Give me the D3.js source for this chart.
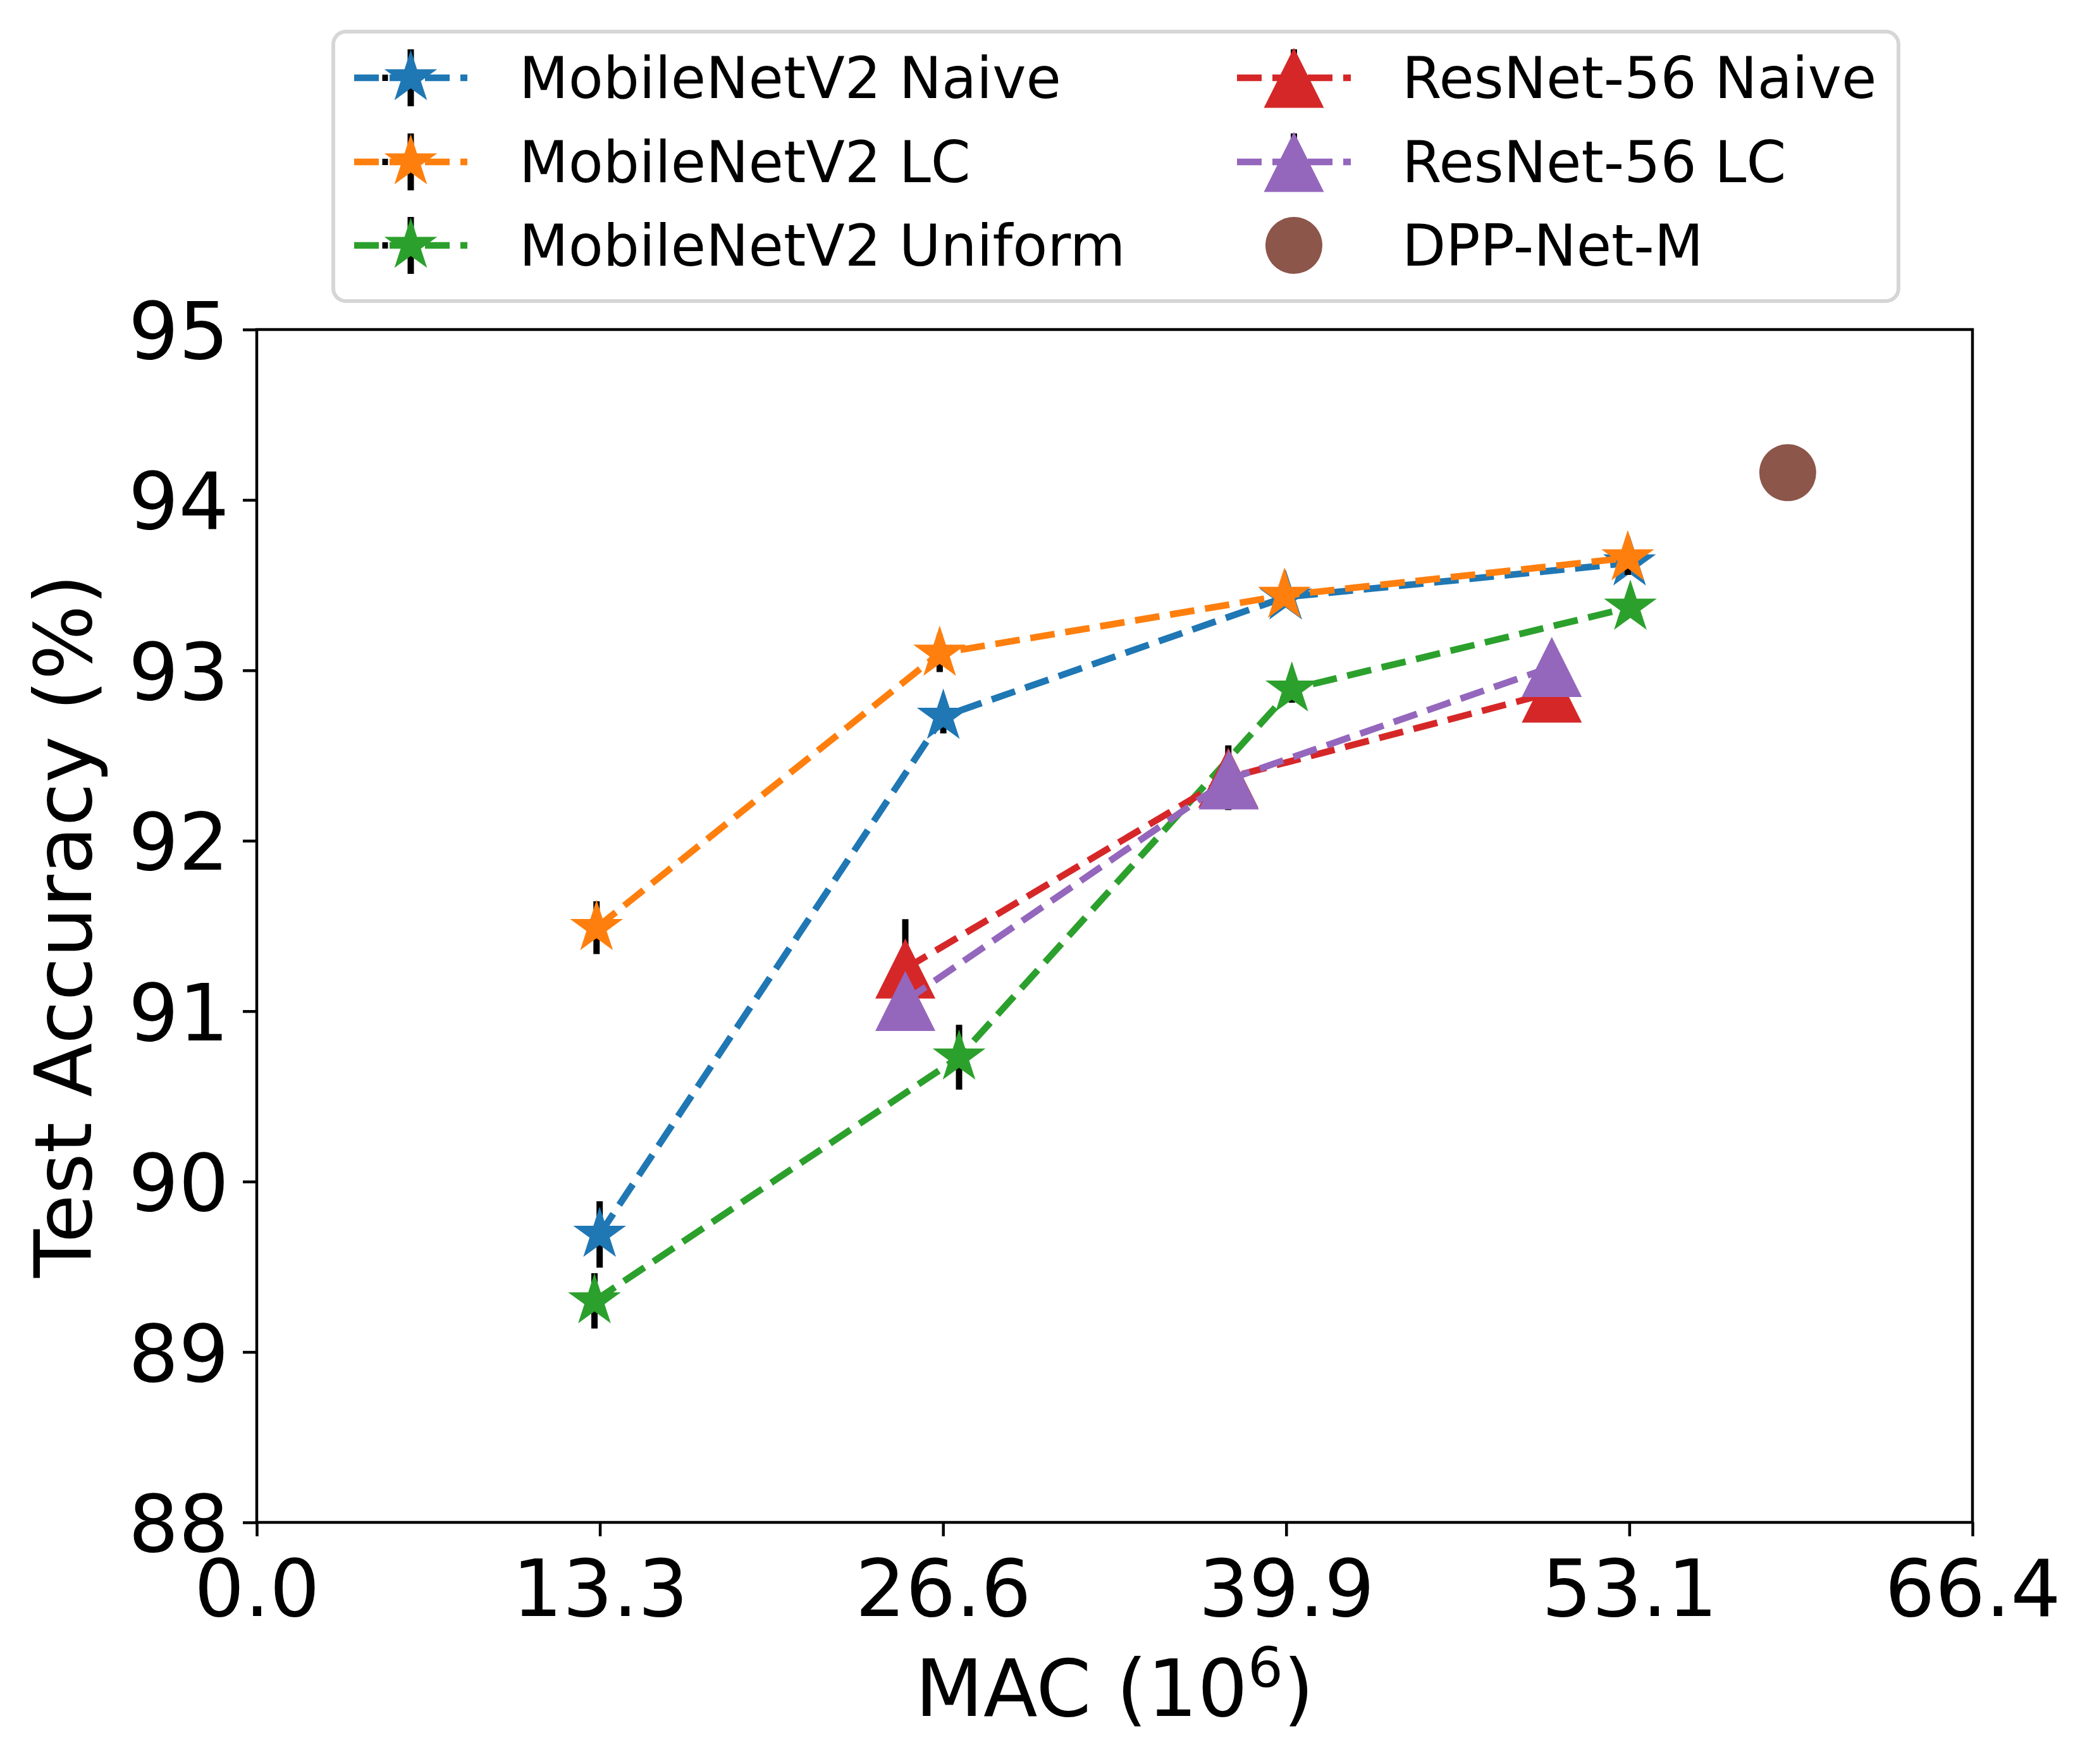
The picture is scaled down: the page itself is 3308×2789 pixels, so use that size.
<!DOCTYPE html>
<html>
<head>
<meta charset="utf-8">
<script src="https://cdn.jsdelivr.net/npm/d3@7"></script>
<style>
  html, body { margin: 0; padding: 0; background: #fff; }
  text { font-family: "DejaVu Sans", sans-serif; }
</style>
</head>
<body>
<script>
// ---------- data ----------
const xTickValues = [0, 13.28, 26.56, 39.84, 53.12, 66.4];
const xTickLabels = ["0.0", "13.3", "26.6", "39.9", "53.1", "66.4"];
const yTickValues = [88, 89, 90, 91, 92, 93, 94, 95];

const mbNaiveMac = [13.27, 26.57, 39.82, 53.13];
const mbNaiveAcc = [89.69, 92.73, 93.43, 93.63];
const mbNaiveErr = [0.195, 0.10, 0.05, 0.05];

const mbLcMac = [13.15, 26.43, 39.77, 53.06];
const mbLcAcc = [91.49, 93.10, 93.44, 93.66];
const mbLcErr = [0.155, 0.11, 0.06, 0.10];

const mbUniMac = [13.07, 27.18, 40.06, 53.16];
const mbUniAcc = [89.30, 90.73, 92.89, 93.37];
const mbUniErr = [0.162, 0.19, 0.08, 0.06];

const rnNaiveMac = [25.10, 37.60, 50.12];
const rnNaiveAcc = [91.25, 92.37, 92.87];
const rnNaiveErr = [0.29, 0.19, 0.05];

const rnLcMac = [25.10, 37.62, 50.12];
const rnLcAcc = [91.06, 92.36, 93.02];
const rnLcErr = [0.10, 0.10, 0.05];

const dppMac = [59.25];
const dppAcc = [94.16];

const seriesNames = ["MobileNetV2 Naive", "MobileNetV2 LC", "MobileNetV2 Uniform",
                     "ResNet-56 Naive", "ResNet-56 LC", "DPP-Net-M"];
const seriesColors = ["#1f77b4", "#ff7f0e", "#2ca02c", "#d62728", "#9467bd", "#8c564b"];

// ---------- setup ----------
const W = 3308, H = 2789;
const svg = d3.select("body").append("svg")
  .attr("width", W).attr("height", H)
  .attr("viewBox", `0 0 ${W} ${H}`);
svg.append("rect").attr("width", W).attr("height", H).attr("fill", "#fff");

const pLeft = 406, pRight = 3119, pTop = 521, pBottom = 2407;
const x = d3.scaleLinear().domain([0, 66.4]).range([pLeft, pRight]);
const y = d3.scaleLinear().domain([88, 95]).range([pBottom, pTop]);

const LW = 10.5, DASH = "39,17", AXW = 4.5, FS = 125;
const starR = 44, triH = 47.5, dotR = 45;

function starPath(R) {
  const r = R * 0.381966;
  const pts = [];
  for (let i = 0; i < 10; i++) {
    const a = -Math.PI / 2 + i * Math.PI / 5;
    const rad = i % 2 === 0 ? R : r;
    pts.push([rad * Math.cos(a), rad * Math.sin(a)]);
  }
  return "M" + pts.map(p => p[0].toFixed(2) + "," + p[1].toFixed(2)).join("L") + "Z";
}
function triPath(h) {
  return `M0,${-h}L${-h},${h}L${h},${h}Z`;
}
const STAR = starPath(starR), TRI = triPath(triH);

// ---------- axes ----------
const xAxis = d3.axisBottom(x).tickValues(xTickValues)
  .tickFormat((d, i) => xTickLabels[i]).tickSizeInner(22).tickSizeOuter(0).tickPadding(22);
const yAxis = d3.axisLeft(y).tickValues(yTickValues)
  .tickFormat(d3.format("d")).tickSizeInner(22).tickSizeOuter(0).tickPadding(22);

const gx = svg.append("g").attr("transform", `translate(0,${pBottom})`).call(xAxis);
const gy = svg.append("g").attr("transform", `translate(${pLeft},0)`).call(yAxis);
[gx, gy].forEach(g => {
  g.select(".domain").remove();
  g.selectAll(".tick line").attr("stroke", "#000").attr("stroke-width", AXW);
  g.selectAll(".tick text").attr("fill", "#000").style("font-size", FS + "px")
    .style("font-family", "'DejaVu Sans', sans-serif");
});
gx.selectAll(".tick text").attr("dy", null).attr("y", 148);
gy.selectAll(".tick text").attr("dy", null).attr("y", 45.5);

// ---------- plot content ----------
const plot = svg.append("g");

function drawSeries(macs, accs, errs, color, markerPath) {
  const g = plot.append("g");
  const pts = macs.map((m, i) => ({ x: m, y: accs[i], e: errs ? errs[i] : 0 }));
  if (errs) {
    g.selectAll("line.err").data(pts).enter().append("line")
      .attr("x1", d => x(d.x)).attr("x2", d => x(d.x))
      .attr("y1", d => y(d.y - d.e)).attr("y2", d => y(d.y + d.e))
      .attr("stroke", "#000").attr("stroke-width", 10);
  }
  if (pts.length > 1) {
    g.append("path").datum(pts)
      .attr("d", d3.line().x(d => x(d.x)).y(d => y(d.y)))
      .attr("fill", "none").attr("stroke", color).attr("stroke-width", LW)
      .attr("stroke-dasharray", DASH);
  }
  if (markerPath === "circle") {
    g.selectAll("circle").data(pts).enter().append("circle")
      .attr("cx", d => x(d.x)).attr("cy", d => y(d.y)).attr("r", dotR).attr("fill", color);
  } else {
    g.selectAll("path.m").data(pts).enter().append("path")
      .attr("d", markerPath).attr("transform", d => `translate(${x(d.x)},${y(d.y)})`)
      .attr("fill", color);
  }
}

drawSeries(mbNaiveMac, mbNaiveAcc, mbNaiveErr, seriesColors[0], STAR);
drawSeries(mbLcMac, mbLcAcc, mbLcErr, seriesColors[1], STAR);
drawSeries(mbUniMac, mbUniAcc, mbUniErr, seriesColors[2], STAR);
drawSeries(rnNaiveMac, rnNaiveAcc, rnNaiveErr, seriesColors[3], TRI);
drawSeries(rnLcMac, rnLcAcc, rnLcErr, seriesColors[4], TRI);
drawSeries(dppMac, dppAcc, null, seriesColors[5], "circle");

// frame
svg.append("rect").attr("x", pLeft).attr("y", pTop)
  .attr("width", pRight - pLeft).attr("height", pBottom - pTop)
  .attr("fill", "none").attr("stroke", "#000").attr("stroke-width", AXW);

// ---------- axis labels ----------
const xl = svg.append("text").attr("x", (pLeft + pRight) / 2).attr("y", 2713)
  .attr("text-anchor", "middle").style("font-size", FS + "px").attr("fill", "#000");
xl.append("tspan").text("MAC (10");
xl.append("tspan").attr("dy", -46).style("font-size", "88px").text("6");
xl.append("tspan").attr("dy", 46).text(")");

svg.append("text")
  .attr("transform", `translate(144,${(pTop + pBottom) / 2}) rotate(-90)`)
  .attr("text-anchor", "middle").style("font-size", FS + "px").attr("fill", "#000")
  .text("Test Accuracy (%)");

// ---------- legend ----------
const leg = svg.append("g");
leg.append("rect").attr("x", 527).attr("y", 50).attr("width", 2475).attr("height", 426)
  .attr("rx", 20).attr("ry", 20).attr("fill", "#fff")
  .attr("stroke", "#d6d6d6").attr("stroke-width", 6);

const legRows = [123, 256, 388];
const legCols = [{ x0: 560, x1: 739, tx: 821 }, { x0: 1956, x1: 2136, tx: 2217 }];
const legMarkers = [STAR, STAR, STAR, TRI, TRI, "circle"];
seriesNames.forEach((name, i) => {
  const c = legCols[Math.floor(i / 3)], ry = legRows[i % 3];
  const cx = (c.x0 + c.x1) / 2;
  const g = leg.append("g");
  if (legMarkers[i] !== "circle") {
    g.append("line").attr("x1", cx).attr("x2", cx).attr("y1", ry - 45).attr("y2", ry + 45)
      .attr("stroke", "#000").attr("stroke-width", 10);
    g.append("line").attr("x1", c.x0).attr("x2", c.x1).attr("y1", ry).attr("y2", ry)
      .attr("stroke", seriesColors[i]).attr("stroke-width", LW).attr("stroke-dasharray", DASH);
    if (legMarkers[i] === STAR) {
      g.append("rect").attr("x", cx - 45).attr("y", ry - 5).attr("width", 9).attr("height", 10)
        .attr("fill", "#000");
    }
    g.append("path").attr("d", legMarkers[i]).attr("transform", `translate(${cx},${ry})`)
      .attr("fill", seriesColors[i]);
  } else {
    g.append("circle").attr("cx", cx).attr("cy", ry).attr("r", dotR).attr("fill", seriesColors[i]);
  }
  g.append("text").attr("x", c.tx).attr("y", ry + 32).style("font-size", "90px")
    .attr("fill", "#000").text(name);
});
</script>
</body>
</html>
